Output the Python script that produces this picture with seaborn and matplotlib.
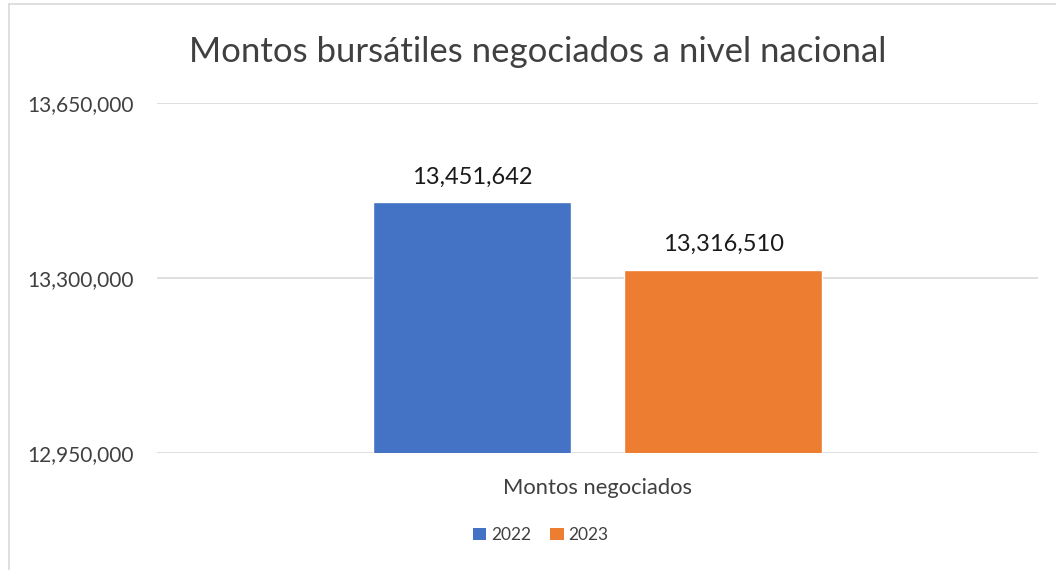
import matplotlib
matplotlib.use("Agg")
import matplotlib.pyplot as plt
import seaborn as sns
import pandas as pd
from matplotlib.lines import Line2D
from matplotlib.patches import Patch

categories = ["Montos negociados"]
years = ["2022", "2023"]
values_2022 = [13451642]
values_2023 = [13316510]
y_ticks = [12950000, 13300000, 13650000]
title = "Montos bursátiles negociados a nivel nacional"

rows = []
for c, v in zip(categories, values_2022):
    rows.append({"cat": c, "year": "2022", "val": v})
for c, v in zip(categories, values_2023):
    rows.append({"cat": c, "year": "2023", "val": v})
df = pd.DataFrame(rows)

sns.set_theme(style="white")
plt.rcParams["font.family"] = ["Lato", "DejaVu Sans"]

W, H = 1056, 570
fig = plt.figure(figsize=(W / 100, H / 100), dpi=100)
ax = fig.add_axes([157 / W, 1 - 453 / H, (1038 - 157) / W, (453 - 103) / H])

palette = {"2022": "#4472C4", "2023": "#ED7D31"}
sns.barplot(data=df, x="cat", y="val", hue="year", palette=palette,
            width=0.57, gap=0.21, ax=ax, legend=False, saturation=1)

ax.set_xlim(-0.5, 0.5)
ax.set_ylim(y_ticks[0], y_ticks[-1])
ax.set_yticks(y_ticks)
ax.set_yticklabels([f"{t:,}" for t in y_ticks])
ax.set_xlabel("")
ax.set_ylabel("")
ax.grid(axis="y", color="#d9d9d9", linewidth=1.2)
ax.set_axisbelow(True)
for s in ax.spines.values():
    s.set_visible(False)
ax.tick_params(axis="y", length=0, pad=17, labelsize=15, labelcolor="#404040")
ax.tick_params(axis="x", length=0, pad=18, labelsize=15.8, labelcolor="#404040")

for cont in ax.containers:
    ax.bar_label(cont, labels=[f"{int(v):,}" for v in cont.datavalues],
                 padding=10.5, fontsize=17, color="#1a1a1a")

fig.text(538 / W, 1 - 52 / H, title, ha="center", va="center",
         fontsize=25, color="#404040")

handles = [Patch(facecolor=palette[y], edgecolor="none") for y in years]
fig.legend(handles, years, loc="center", bbox_to_anchor=(541 / W, 1 - 535 / H),
           ncol=2, frameon=False, fontsize=12.5, handlelength=0.75, handleheight=0.75,
           handletextpad=0.3, columnspacing=1.1, labelcolor="#404040")

fig.add_artist(Line2D([9 / W, 9 / W], [0, 1 - 4 / H], color="#d9d9d9", lw=1.2,
                      transform=fig.transFigure))
fig.add_artist(Line2D([9 / W, 1], [1 - 4 / H, 1 - 4 / H], color="#d9d9d9", lw=1.2,
                      transform=fig.transFigure))

fig.savefig("out.png", dpi=100)
